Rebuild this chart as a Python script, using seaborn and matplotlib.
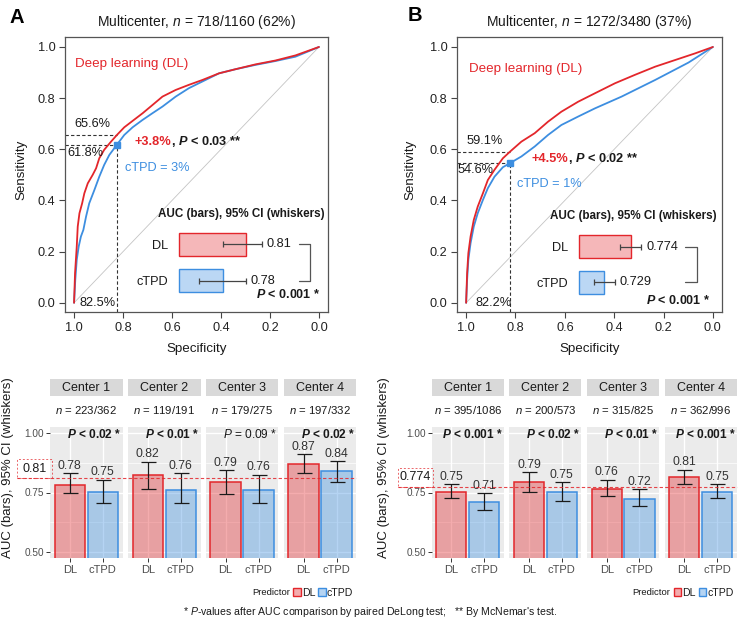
import numpy as np
import pandas as pd
import matplotlib
matplotlib.use("Agg")
import matplotlib.pyplot as plt
import matplotlib.transforms as mtrans
from matplotlib.patches import Rectangle
import seaborn as sns

sns.set_style("white")
plt.rcParams["font.family"] = ["Liberation Sans", "DejaVu Sans"]
plt.rcParams["mathtext.fontset"] = "custom"
plt.rcParams["mathtext.rm"] = "Liberation Sans"
plt.rcParams["mathtext.it"] = "Liberation Sans:italic"
plt.rcParams["mathtext.bf"] = "Liberation Sans:bold"
plt.rcParams["mathtext.bfit"] = "Liberation Sans:bold:italic"
plt.rcParams["mathtext.sf"] = "Liberation Sans"

# ---------------------------------------------------------------- data
predictors = ["DL", "cTPD"]
centers = ["Center 1", "Center 2", "Center 3", "Center 4"]

# ROC panel A (specificity, sensitivity)
roc_a_dl_spec = [1.0, 0.996, 0.989, 0.985, 0.978, 0.967, 0.958, 0.944, 0.924, 0.910, 0.897, 0.877, 0.849, 0.825,
                 0.795, 0.761, 0.720, 0.680, 0.639, 0.585, 0.531, 0.476, 0.408, 0.341, 0.259, 0.178, 0.096, 0.0]
roc_a_dl_sens = [0.0, 0.116, 0.22, 0.298, 0.35, 0.389, 0.428, 0.467, 0.50, 0.526, 0.565, 0.598, 0.630, 0.656,
                 0.686, 0.711, 0.741, 0.773, 0.806, 0.832, 0.852, 0.871, 0.897, 0.913, 0.932, 0.947, 0.967, 1.0]
roc_a_ct_spec = [1.0, 0.995, 0.989, 0.981, 0.972, 0.962, 0.951, 0.938, 0.917, 0.897, 0.877, 0.856, 0.825,
                 0.795, 0.761, 0.720, 0.680, 0.639, 0.585, 0.531, 0.476, 0.408, 0.341, 0.259, 0.178, 0.096, 0.0]
roc_a_ct_sens = [0.0, 0.09, 0.168, 0.22, 0.259, 0.285, 0.337, 0.389, 0.441, 0.493, 0.539, 0.578, 0.618,
                 0.656, 0.686, 0.715, 0.741, 0.767, 0.806, 0.839, 0.865, 0.897, 0.913, 0.930, 0.945, 0.962, 1.0]
# ROC panel B
roc_b_dl_spec = [1.0, 0.996, 0.991, 0.982, 0.969, 0.953, 0.932, 0.912, 0.885, 0.851, 0.822, 0.776, 0.722,
                 0.668, 0.614, 0.546, 0.478, 0.397, 0.316, 0.234, 0.153, 0.072, 0.0]
roc_b_dl_sens = [0.0, 0.116, 0.194, 0.259, 0.324, 0.376, 0.428, 0.480, 0.520, 0.565, 0.591, 0.630, 0.663,
                 0.708, 0.747, 0.786, 0.819, 0.858, 0.891, 0.923, 0.949, 0.975, 1.0]
roc_b_ct_spec = [1.0, 0.996, 0.991, 0.982, 0.969, 0.953, 0.932, 0.912, 0.885, 0.851, 0.822, 0.776, 0.722,
                 0.668, 0.614, 0.546, 0.478, 0.370, 0.234, 0.099, 0.0]
roc_b_ct_sens = [0.0, 0.09, 0.168, 0.233, 0.298, 0.350, 0.402, 0.448, 0.493, 0.530, 0.546, 0.572, 0.611,
                 0.656, 0.695, 0.728, 0.760, 0.806, 0.871, 0.939, 1.0]

# operating points (specificity, DL sensitivity, cTPD sensitivity)
thr_a = [0.825, 0.656, 0.618]
thr_b = [0.822, 0.591, 0.546]
titles = [r"Multicenter, $\mathit{n}$ = 718/1160 (62%)", r"Multicenter, $\mathit{n}$ = 1272/3480 (37%)"]
thr_cut = ["cTPD = 3%", "cTPD = 1%"]
diff_txt = ["+3.8%", "+4.5%"]
mcnemar_p = ["< 0.03", "< 0.02"]

# overall AUC with 95% CI (inset bars)
auc_a = [0.81, 0.78]; auc_a_lo = [0.78, 0.75]; auc_a_hi = [0.83, 0.81]
auc_b = [0.774, 0.729]; auc_b_lo = [0.756, 0.711]; auc_b_hi = [0.791, 0.746]
auc_dec = [2, 3]
delong_overall = ["< 0.001", "< 0.001"]

# per-center AUC, panel A
a_n = ["223/362", "119/191", "179/275", "197/332"]
a_dl = [0.782, 0.822, 0.792, 0.871]
a_ct = [0.752, 0.762, 0.762, 0.842]
a_dl_lo = [0.746, 0.764, 0.745, 0.832]
a_dl_hi = [0.832, 0.880, 0.843, 0.911]
a_ct_lo = [0.704, 0.704, 0.704, 0.793]
a_ct_hi = [0.803, 0.832, 0.824, 0.882]
a_p = ["< 0.02 *", "< 0.01 *", "= 0.09 *", "< 0.02 *"]
a_sig = [True, True, False, True]
# per-center AUC, panel B
b_n = ["395/1086", "200/573", "315/825", "362/996"]
b_dl = [0.753, 0.792, 0.763, 0.813]
b_ct = [0.712, 0.754, 0.722, 0.754]
b_dl_lo = [0.725, 0.754, 0.735, 0.785]
b_dl_hi = [0.786, 0.835, 0.804, 0.845]
b_ct_lo = [0.675, 0.715, 0.694, 0.725]
b_ct_hi = [0.746, 0.794, 0.764, 0.785]
b_p = ["< 0.001 *", "< 0.02 *", "< 0.01 *", "< 0.001 *"]
b_sig = [True, True, True, True]

# ---------------------------------------------------------------- style
RED = "#E3262B"
BLUE = "#3D8EE0"
PAL = {"DL": RED, "cTPD": BLUE}
FILL_BAR = {"DL": (0.89, 0.15, 0.17, 0.38), "cTPD": (0.24, 0.56, 0.88, 0.38)}
FILL_INSET = {"DL": (0.89, 0.15, 0.17, 0.33), "cTPD": (0.24, 0.56, 0.88, 0.35)}
TXT = "#1A1A1A"

W, H = 740, 624
fig = plt.figure(figsize=(W / 100, H / 100), dpi=100)


def add_ax(x0, y0, x1, y1, **kw):
    return fig.add_axes([x0 / W, 1 - y1 / H, (x1 - x0) / W, (y1 - y0) / H], **kw)


ov = fig.add_axes([0, 0, 1, 1], zorder=20)
ov.set_xlim(0, W)
ov.set_ylim(H, 0)
ov.axis("off")


def rich_text(ax, x, y, parts, size, transform=None):
    prev = None
    for s, kw in parts:
        if prev is None:
            prev = ax.text(x, y, s, fontsize=size, ha="left", va="baseline",
                           transform=transform or ax.transData, **kw)
        else:
            prev = ax.annotate(s, xy=(1, y), xycoords=(prev, transform or ax.transData),
                               fontsize=size, ha="left", va="baseline", **kw)


def draw_roc(box, dl_spec, dl_sens, ct_spec, ct_sens, thr, k, txtpos, inset_box, auc, lo, hi,
             bracket_x, ptxt_xy, inset_title_xy):
    x0, y0, x1, y1 = box
    ax = add_ax(x0, y0, x1, y1)
    ax.plot([1, 0], [0, 1], color="#C4C4C4", lw=0.6, zorder=1)
    df = pd.concat([
        pd.DataFrame({"Specificity": dl_spec, "Sensitivity": dl_sens, "Predictor": "DL"}),
        pd.DataFrame({"Specificity": ct_spec, "Sensitivity": ct_sens, "Predictor": "cTPD"}),
    ])
    sns.lineplot(data=df, x="Specificity", y="Sensitivity", hue="Predictor", hue_order=["cTPD", "DL"],
                 palette=PAL, estimator=None, sort=False, linewidth=1.3, legend=False, ax=ax, zorder=3)
    xl = (1.037, -0.037)
    yl = (-0.036, 1.039)
    ts, tdl, tct = thr
    dash = (0, (3, 2))
    ax.plot([xl[0], ts], [tdl, tdl], ls=dash, color="#333333", lw=0.8, zorder=2)
    ax.plot([xl[0], ts], [tct, tct], ls=dash, color="#333333", lw=0.8, zorder=2)
    ax.plot([ts, ts], [yl[0], tct], ls=dash, color="#333333", lw=0.8, zorder=2)
    ax.plot([ts], [tct], marker="s", ms=4.2, color=BLUE, zorder=4)
    ax.set_xlim(*xl)
    ax.set_ylim(*yl)
    ticks = [1.0, 0.8, 0.6, 0.4, 0.2, 0.0]
    ax.set_xticks(ticks)
    ax.set_xticklabels([f"{t:.1f}" for t in ticks])
    ax.set_yticks(ticks)
    ax.set_yticklabels([f"{t:.1f}" for t in ticks])
    ax.tick_params(direction="out", length=4.5, width=0.8, color="#444444", labelsize=9.2,
                   labelcolor="#222222", pad=2.5, bottom=True, left=True)
    for s in ax.spines.values():
        s.set_visible(True)
        s.set_color("#555555")
        s.set_linewidth(0.9)
    ax.set_xlabel("")
    ax.set_ylabel("")
    # texts
    p = txtpos
    ax.text(p["deep"][0], p["deep"][1], "Deep learning (DL)", color=RED, fontsize=9.6, ha="left", va="center")
    ax.text(p["hi"][0], p["hi"][1], f"{tdl * 100:.1f}%", color=TXT, fontsize=9.2, ha="left", va="center")
    ax.text(p["lo"][0], p["lo"][1], f"{tct * 100:.1f}%", color=TXT, fontsize=9.2, ha="left", va="center")
    ax.text(p["sp"][0], p["sp"][1], f"{ts * 100:.1f}%", color=TXT, fontsize=9.2, ha="left", va="center")
    ax.text(p["cut"][0], p["cut"][1], thr_cut[k], color=BLUE, fontsize=9.2, ha="left", va="center")
    rich_text(ax, p["diff"][0], p["diff"][1],
              [(diff_txt[k], dict(color=RED, fontweight="bold")),
               (r", $\mathbfit{P}$ " + mcnemar_p[k] + " **", dict(color=TXT, fontweight="bold"))], 9.2)
    fig.text((x0 + x1) / 2 / W, 1 - 22 / H, titles[k], ha="center", va="center", fontsize=10, color=TXT)
    fig.text(p["ylab"] / W, 1 - ((y0 + y1) / 2 - 5) / H, "Sensitivity", rotation=90, ha="center",
             va="center", fontsize=9.6, color=TXT)
    fig.text((x0 + x1) / 2 / W, 1 - 349 / H, "Specificity", ha="center", va="center", fontsize=9.6, color=TXT)

    # inset AUC bars
    ix0, iy0, ix1, iy1, base, top = inset_box
    ia = add_ax(ix0, iy0, ix1, iy1)
    ia.patch.set_visible(False)
    for i, name in enumerate(predictors):
        ia.barh(i, auc[i] - base, left=base, height=0.64, color=FILL_INSET[name], edgecolor=PAL[name],
                linewidth=1.0, clip_on=False)
    ia.errorbar(auc, [0, 1], xerr=[[a - l for a, l in zip(auc, lo)], [h - a for a, h in zip(auc, hi)]],
                fmt="none", ecolor="#444444", elinewidth=0.9, capsize=2.5, capthick=0.9, clip_on=False)
    for i in range(2):
        ia.annotate(f"{auc[i]:.{auc_dec[k]}f}", xy=(hi[i], i), xytext=(3.6, 0), textcoords="offset points",
                    ha="left", va="center", fontsize=9.2, color=TXT)
    ia.set_xlim(base, top)
    ia.set_ylim(1.5, -0.5)
    ia.set_yticks([0, 1])
    ia.set_yticklabels(predictors)
    ia.set_xticks([])
    ia.tick_params(axis="y", length=0, pad=7.5, labelsize=9.2, labelcolor=TXT)
    for s in ia.spines.values():
        s.set_visible(False)
    tr = mtrans.blended_transform_factory(ov.transData, ia.transData)
    bx0, bx1 = bracket_x
    ov.plot([bx0, bx1, bx1, bx0], [0, 0, 1, 1], color="#555555", lw=0.9, transform=tr, clip_on=False)
    ov.text(ptxt_xy[0], ptxt_xy[1], r"$\mathbfit{P}$ " + delong_overall[k] + " *", ha="right", va="center",
            fontsize=9, fontweight="bold", color=TXT)
    ov.text(inset_title_xy[0], inset_title_xy[1], "AUC (bars), 95% CI (whiskers)", ha="right", va="center",
            fontsize=8.4, fontweight="bold", color=TXT)
    return ax


draw_roc((65, 37, 328, 312), roc_a_dl_spec, roc_a_dl_sens, roc_a_ct_spec, roc_a_ct_sens, thr_a, 0,
         dict(deep=(0.997, 0.935), hi=(1.0, 0.70), lo=(1.026, 0.584), sp=(0.976, -0.002),
              cut=(0.793, 0.525), diff=(0.753, 0.615), ylab=21),
         (179, 226, 320, 299, 0.724, 0.905), auc_a, auc_a_lo, auc_a_hi,
         (299, 310), (320, 294), (325, 214))
draw_roc((457, 37, 722, 312), roc_b_dl_spec, roc_b_dl_sens, roc_b_ct_spec, roc_b_ct_sens, thr_b, 1,
         dict(deep=(0.99, 0.912), hi=(1.0, 0.631), lo=(1.036, 0.518), sp=(0.964, -0.002),
              cut=(0.795, 0.463), diff=(0.735, 0.552), ylab=410),
         (579, 228.6, 715, 300.2, 0.686, 0.9155), auc_b, auc_b_lo, auc_b_hi,
         (685, 697), (710, 301), (717, 216.5))


# ---------------------------------------------------------------- facets
def draw_facets(x0, step, w, n_list, dl, ct, dl_lo, dl_hi, ct_lo, ct_hi, p_list, sig, overall,
                box_x, ylab_x, label_fmt):
    axes = []
    for i in range(4):
        xl = x0 + i * step
        ax = add_ax(xl, 427, xl + w, 558)
        df = pd.DataFrame({"Predictor": predictors, "AUC": [dl[i], ct[i]]})
        sns.barplot(data=df, x="Predictor", y="AUC", hue="Predictor", order=predictors, hue_order=predictors,
                    palette=PAL, width=0.92, errorbar=None, legend=False, ax=ax)
        for patch in ax.patches:
            xc = patch.get_x() + patch.get_width() / 2
            name = predictors[int(round(xc))]
            patch.set_facecolor(FILL_BAR[name])
            patch.set_edgecolor(PAL[name])
            patch.set_linewidth(1.1)
        vals = [dl[i], ct[i]]
        los = [dl_lo[i], ct_lo[i]]
        his = [dl_hi[i], ct_hi[i]]
        ax.errorbar([0, 1], vals, yerr=[[v - l for v, l in zip(vals, los)], [h - v for v, h in zip(vals, his)]],
                    fmt="none", ecolor=TXT, elinewidth=0.9, capsize=5.4, capthick=0.9, zorder=5)
        for j in range(2):
            ax.annotate(f"{vals[j]:.2f}", xy=(j, his[j]), xytext=(0, 1.0), textcoords="offset points",
                        ha="center", va="bottom", fontsize=8.8, color="#333333")
        if sig[i]:
            ax.text(0.985, 0.94, r"$\mathbfit{P}$ " + p_list[i], transform=ax.transAxes, ha="right",
                    va="center", fontsize=8.6, fontweight="bold", color=TXT)
        else:
            ax.text(0.985, 0.94, r"$\mathit{P}$ " + p_list[i], transform=ax.transAxes, ha="right",
                    va="center", fontsize=8.6, color=TXT)
        ax.set_xlim(-0.6, 1.6)
        ax.set_ylim(0.475, 1.025)
        ax.set_facecolor("#EBEBEB")
        ax.set_yticks([0.5, 0.75, 1.0])
        ax.set_yticklabels(["0.50", "0.75", "1.00"])
        ax.set_yticks([0.625, 0.875], minor=True)
        ax.set_axisbelow(True)
        ax.grid(which="major", color="white", lw=1.0)
        ax.grid(which="minor", axis="y", color="white", lw=0.5)
        for s in ax.spines.values():
            s.set_visible(False)
        ax.tick_params(axis="x", length=2.75, width=0.7, color="#333333", labelsize=8,
                       labelcolor="#4D4D4D", pad=2, bottom=True)
        ax.tick_params(axis="y", which="minor", length=0)
        if i == 0:
            ax.tick_params(axis="y", which="major", length=2.75, width=0.7, color="#333333", labelsize=7.2,
                           labelcolor="#4D4D4D", pad=1.5, left=True)
        else:
            ax.tick_params(axis="y", which="major", length=0, labelleft=False)
        ax.set_xlabel("")
        ax.set_ylabel("")
        axes.append(ax)
        # strip
        sa = add_ax(xl, 379, xl + w, 396)
        sa.set_facecolor("#D9D9D9")
        sa.set_xticks([])
        sa.set_yticks([])
        for s in sa.spines.values():
            s.set_visible(False)
        sa.text(0.5, 0.45, centers[i], transform=sa.transAxes, ha="center", va="center", fontsize=9,
                color=TXT)
        ov.text(xl + w / 2, 410, r"$\mathit{n}$ = " + n_list[i], ha="center", va="center", fontsize=8.2,
                color=TXT)
    # overall AUC reference line and box
    right = x0 + 3 * step + w
    tr = mtrans.blended_transform_factory(ov.transData, axes[0].transData)
    ov.plot([box_x[0], right], [overall, overall], color=RED, alpha=0.85, ls=(0, (3, 2)), lw=0.8,
            transform=tr, clip_on=False)
    ov.add_patch(Rectangle((box_x[0], overall), box_x[1] - box_x[0], 0.08, transform=tr, fill=False,
                           edgecolor=RED, alpha=0.7, ls=(0, (2, 2)), lw=0.7, clip_on=False))
    ov.text((box_x[0] + box_x[1]) / 2, overall + 0.04, label_fmt.format(overall), transform=tr, ha="center",
            va="center", fontsize=9, color=TXT)
    ov.text(ylab_x, 468, "AUC (bars), 95% CI (whiskers)", rotation=90, ha="center", va="center",
            fontsize=9.5, color=TXT)
    # legend (right-aligned with the facet row)
    ov.text(right - 66.5, 592.5, "Predictor", ha="right", va="center", fontsize=6.8, color=TXT)
    for name, off in [("DL", 63.0), ("cTPD", 38.0)]:
        ov.add_patch(Rectangle((right - off, 588.3), 7.6, 8, facecolor=FILL_BAR[name], edgecolor=PAL[name],
                               lw=1.0))
        ov.text(right - off + 8.4, 592.5, name, ha="left", va="center", fontsize=7.6, color=TXT)


draw_facets(50, 77.9, 72.6, a_n, a_dl, a_ct, a_dl_lo, a_dl_hi, a_ct_lo, a_ct_hi, a_p, a_sig, auc_a[0],
            (17, 51.7), 8.5, "{:.2f}")
draw_facets(431.7, 77.7, 72.0, b_n, b_dl, b_ct, b_dl_lo, b_dl_hi, b_ct_lo, b_ct_hi, b_p, b_sig, auc_b[0],
            (398, 433), 384, "{:.3f}")

# panel letters and footnote
ov.text(16.7, 22.7, "A", ha="center", va="baseline", fontsize=14.5, fontweight="bold", color="black")
ov.text(414.7, 20.7, "B", ha="center", va="baseline", fontsize=14.5, fontweight="bold", color="black")
ov.text(370, 612, r"* $\mathit{P}$-values after AUC comparison by paired DeLong test;   ** By McNemar's test.",
        ha="center", va="center", fontsize=7.6, color=TXT)

fig.savefig("out.png", dpi=100)
